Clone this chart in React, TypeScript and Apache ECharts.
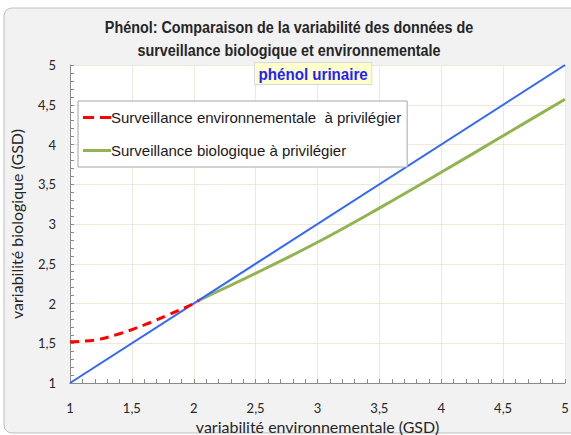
import React, { useEffect, useRef } from "react";
import * as echarts from "echarts";

const identityX = [1, 5];
const identityY = [1, 5];
const envX = [1, 1.2, 1.4, 1.6, 1.8, 2.0, 2.04];
const envY = [1.52, 1.54, 1.62, 1.73, 1.86, 2.0, 2.04];
const bioX = [2.04, 2.5, 3, 3.5, 4, 4.5, 5];
const bioY = [2.04, 2.38, 2.77, 3.2, 3.65, 4.11, 4.57];

const titleText = "Phénol: Comparaison de la variabilité des données de\nsurveillance biologique et environnementale";
const subText = "phénol urinaire";
const envName = "Surveillance environnementale  à privilégier";
const bioName = "Surveillance biologique à privilégier";
const xName = "variabilité environnementale (GSD)";
const yName = "variabilité biologique (GSD)";

const zip = (xs: number[], ys: number[]) => xs.map((x, i) => [x, ys[i]]);
const fmt = (v: number) => String(v).replace(".", ",");

const SANS = "'Liberation Sans', Arial, sans-serif";
const CAL = "Lato, 'Open Sans', sans-serif";

export default function App() {
  const ref = useRef<HTMLDivElement>(null);
  useEffect(() => {
    const chart = echarts.init(ref.current!, null, { renderer: "svg" });
    chart.setOption({
      animation: false,
      backgroundColor: "#ffffff",
      graphic: [
        {
          type: "rect",
          z: -10,
          shape: { x: 4, y: 8, width: 600, height: 425, r: 8 },
          style: { fill: "#f2f2f2", stroke: "#bfbfbf", lineWidth: 1 },
        },
        {
          type: "text",
          x: 289,
          y: 16,
          scaleX: 0.845,
          style: {
            text: titleText,
            font: `bold 17px ${SANS}`,
            fill: "#262626",
            align: "center",
            lineHeight: 23,
          },
        },
        {
          type: "text",
          x: 255,
          y: 63,
          z: 10,
          scaleX: 0.89,
          style: {
            text: subText,
            font: `bold 17px ${SANS}`,
            fill: "#1f1fff",
            backgroundColor: "#ffffcc",
            borderColor: "#d9d9d9",
            borderWidth: 1,
            padding: [2, 4, 2, 4],
          },
        },
      ],
      grid: {
        left: 70,
        right: 6,
        top: 65,
        bottom: 52,
        show: true,
        backgroundColor: "#ffffff",
        borderWidth: 0,
        outerBoundsMode: "none",
        containLabel: false,
      },
      legend: {
        data: [
          { name: envName, icon: "path://M0,0h11v3H0z M17,0h11v3H17z" },
          { name: bioName, icon: "path://M0,0h28v3H0z" },
        ],
        orient: "vertical",
        left: 78,
        top: 101,
        padding: [9, 6, 9, 5],
        itemGap: 18,
        itemWidth: 28,
        itemHeight: 3,
        backgroundColor: "#ffffff",
        borderColor: "#a6a6a6",
        borderWidth: 1,
        textStyle: { fontFamily: SANS, fontSize: 15, color: "#1a1a1a", padding: [0, 0, 0, -5] },
      },
      xAxis: {
        type: "value",
        min: 1,
        max: 5,
        interval: 0.5,
        name: xName,
        nameLocation: "middle",
        nameGap: 34,
        nameTextStyle: { fontFamily: CAL, fontSize: 16, color: "#262626" },
        axisLine: { show: true, lineStyle: { color: "#8c8c8c" } },
        axisTick: { show: true, inside: true, length: 4, lineStyle: { color: "#8c8c8c" } },
        minorTick: { show: true, splitNumber: 5, length: 4, lineStyle: { color: "#8c8c8c" } },
        axisLabel: { formatter: fmt, fontFamily: CAL, fontSize: 13, color: "#262626", margin: 18 },
        splitLine: { show: true, lineStyle: { color: "#eee9d8" } },
      },
      yAxis: {
        type: "value",
        min: 1,
        max: 5,
        interval: 0.5,
        name: yName,
        nameLocation: "middle",
        nameGap: 46,
        nameTextStyle: { fontFamily: CAL, fontSize: 16, color: "#262626" },
        axisLine: { show: true, lineStyle: { color: "#8c8c8c" } },
        axisTick: { show: true, inside: true, length: 4, lineStyle: { color: "#8c8c8c" } },
        minorTick: { show: true, splitNumber: 5, length: 4, lineStyle: { color: "#8c8c8c" } },
        axisLabel: { formatter: fmt, fontFamily: CAL, fontSize: 13, color: "#262626", margin: 14 },
        splitLine: { show: true, lineStyle: { color: "#eee9d8" } },
      },
      series: [
        {
          name: "identité",
          type: "line",
          data: zip(identityX, identityY),
          symbol: "none",
          lineStyle: { color: "#3366ff", width: 2 },
          itemStyle: { color: "#3366ff" },
          z: 3,
        },
        {
          name: envName,
          type: "line",
          data: zip(envX, envY),
          symbol: "none",
          smooth: 0.4,
          lineStyle: { color: "#ff0000", width: 3, type: [9, 6] },
          itemStyle: { color: "#ff0000" },
          z: 4,
        },
        {
          name: bioName,
          type: "line",
          data: zip(bioX, bioY),
          symbol: "none",
          smooth: 0.4,
          lineStyle: { color: "#92b450", width: 3 },
          itemStyle: { color: "#92b450" },
          z: 2,
        },
      ],
    });
    return () => chart.dispose();
  }, []);
  return (
    <div
      ref={ref}
      style={{ position: "fixed", left: 0, top: 0, width: 571, height: 435 }}
    />
  );
}
